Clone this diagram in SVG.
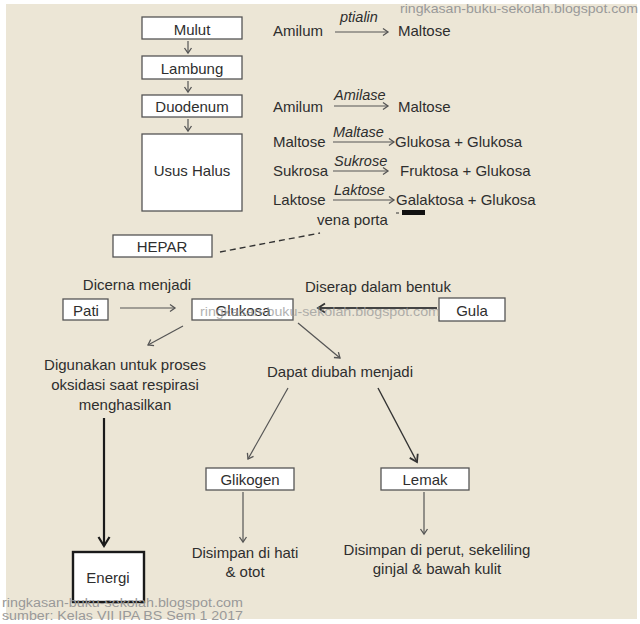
<svg xmlns="http://www.w3.org/2000/svg" width="640" height="624" viewBox="0 0 640 624">
<defs>
<marker id="head" markerUnits="userSpaceOnUse" markerWidth="10" markerHeight="10" refX="6" refY="4" orient="auto" viewBox="0 0 10 8">
<path d="M1,0.5 L6,4 L1,7.5" fill="none" stroke="#555" stroke-width="1.3"/>
</marker>
<marker id="headDark" markerUnits="userSpaceOnUse" markerWidth="12" markerHeight="12" refX="8" refY="5" orient="auto" viewBox="0 0 12 10">
<path d="M1,0.5 L8,5 L1,9.5" fill="none" stroke="#333" stroke-width="1.8"/>
</marker>
<marker id="headBig" markerUnits="userSpaceOnUse" markerWidth="14" markerHeight="14" refX="10" refY="6" orient="auto" viewBox="0 0 14 12">
<path d="M1,0.5 L10,6 L1,11.5" fill="none" stroke="#1a1a1a" stroke-width="2.2"/>
</marker>
</defs>
<style>
text{font-family:"Liberation Sans",Arial,sans-serif;font-size:15px;fill:#2e2e2e}
.c{text-anchor:middle}
.i{font-style:italic;font-size:14.5px}
.box{fill:#fff;stroke:#555;stroke-width:1.3}
.ln{stroke:#555;stroke-width:1.2;fill:none}
.wm{font-family:"Liberation Sans",Arial,sans-serif;font-size:13px;fill:#999}
.wm2{font-family:"Liberation Sans",Arial,sans-serif;font-size:12px;fill:#999}
</style>
<rect x="0" y="0" width="640" height="624" fill="#fff"/>
<rect x="6" y="4" width="631" height="615" fill="#ece6d6"/>

<g id="connectors">
<line class="ln" x1="188" y1="41" x2="188" y2="53" marker-end="url(#head)"/>
<line class="ln" x1="188" y1="81" x2="188" y2="92" marker-end="url(#head)"/>
<line class="ln" x1="188" y1="119" x2="188" y2="131" marker-end="url(#head)"/>
<line class="ln" x1="335" y1="32" x2="388" y2="32" marker-end="url(#head)"/>
<line class="ln" x1="334" y1="106" x2="388" y2="106" marker-end="url(#head)"/>
<line class="ln" x1="333" y1="142" x2="394" y2="142" marker-end="url(#head)"/>
<line class="ln" x1="333" y1="171" x2="388" y2="171" marker-end="url(#head)"/>
<line class="ln" x1="333" y1="200" x2="394" y2="200" marker-end="url(#head)"/>
<line x1="220" y1="252" x2="320" y2="233" stroke="#333" stroke-width="1.4" stroke-dasharray="6,4"/>
<line class="ln" x1="120" y1="308" x2="175" y2="308" stroke="#666" marker-end="url(#head)"/>
<line x1="437" y1="308" x2="318" y2="308" stroke="#444" stroke-width="2" marker-end="url(#headDark)"/>
<line class="ln" x1="183" y1="326" x2="148" y2="345" stroke="#666" marker-end="url(#head)"/>
<line class="ln" x1="298" y1="323" x2="340" y2="358" stroke="#666" marker-end="url(#head)"/>
<line x1="104" y1="418" x2="104" y2="546" stroke="#1a1a1a" stroke-width="2.2" marker-end="url(#headBig)"/>
<line class="ln" x1="288" y1="388" x2="248" y2="459" stroke="#666" marker-end="url(#head)"/>
<line x1="378" y1="388" x2="417" y2="462" stroke="#333" stroke-width="1.4" marker-end="url(#headDark)"/>
<line class="ln" x1="243" y1="492" x2="243" y2="542" stroke="#444" marker-end="url(#head)"/>
<line class="ln" x1="424" y1="492" x2="424" y2="534" stroke="#8a8478" marker-end="url(#head)"/>
<rect x="402" y="210" width="23" height="5" fill="#111"/>
<line x1="396" y1="213" x2="399" y2="213" stroke="#333" stroke-width="1"/>
</g>

<g id="mulut"><rect class="box" x="142" y="17" width="100" height="22"/><text class="c" x="192" y="35">Mulut</text></g>
<g id="lambung"><rect class="box" x="142" y="56" width="100" height="23"/><text class="c" x="192" y="74">Lambung</text></g>
<g id="duodenum"><rect class="box" x="142" y="95" width="100" height="22" stroke="#222"/><text class="c" x="192" y="112">Duodenum</text></g>
<g id="usus-halus"><rect class="box" x="142" y="134" width="100" height="77"/><text class="c" x="192" y="176">Usus Halus</text></g>

<g id="reaksi">
<text x="273" y="36">Amilum</text><text class="i" x="340" y="22">ptialin</text><text x="398" y="36">Maltose</text>
<text x="273" y="112">Amilum</text><text class="i" x="334" y="100">Amilase</text><text x="398" y="112">Maltose</text>
<text x="273" y="147">Maltose</text><text class="i" x="333" y="137">Maltase</text><text x="395" y="147">Glukosa + Glukosa</text>
<text x="273" y="176">Sukrosa</text><text class="i" x="334" y="166">Sukrose</text><text x="400" y="176">Fruktosa + Glukosa</text>
<text x="273" y="205">Laktose</text><text class="i" x="334" y="195">Laktose</text><text x="396" y="205">Galaktosa + Glukosa</text>
<text x="317" y="225">vena porta</text>
</g>

<g id="hepar"><rect class="box" x="113" y="235" width="99" height="22"/><text class="c" x="162" y="252">HEPAR</text></g>
<g id="pati"><rect class="box" x="63" y="299" width="45" height="21"/><text class="c" x="86" y="316">Pati</text></g>
<g id="glukosa"><rect class="box" x="192" y="299" width="101" height="21"/><text class="c" x="243" y="316">Glukosa</text></g>
<g id="gula"><rect class="box" x="439" y="298" width="66" height="23"/><text class="c" x="472" y="316">Gula</text></g>
<text class="c" x="137" y="290">Dicerna menjadi</text>
<text class="c" x="378" y="292">Diserap dalam bentuk</text>

<g id="digunakan">
<text class="c" x="125" y="370">Digunakan untuk proses</text>
<text class="c" x="125" y="390">oksidasi saat respirasi</text>
<text class="c" x="125" y="410">menghasilkan</text>
</g>
<g id="dapat"><text class="c" x="340" y="377">Dapat diubah menjadi</text></g>
<g id="energi"><rect x="73" y="552" width="71" height="50" fill="#fff" stroke="#1a1a1a" stroke-width="2.4"/><text class="c" x="108" y="583">Energi</text></g>
<g id="glikogen"><rect class="box" x="206" y="468" width="88" height="22"/><text class="c" x="250" y="485">Glikogen</text></g>
<g id="lemak"><rect class="box" x="381" y="468" width="88" height="22"/><text class="c" x="425" y="485">Lemak</text></g>
<g id="simpan-hati"><text class="c" x="245" y="558">Disimpan di hati</text><text class="c" x="245" y="577">&amp; otot</text></g>
<g id="simpan-perut"><text class="c" x="437" y="555">Disimpan di perut, sekeliling</text><text class="c" x="437" y="574">ginjal &amp; bawah kulit</text></g>

<g id="watermarks">
<text class="wm" x="400" y="13" textLength="238" lengthAdjust="spacingAndGlyphs">ringkasan-buku-sekolah.blogspot.com</text>
<text class="wm" x="200" y="316" textLength="240" lengthAdjust="spacingAndGlyphs" opacity="0.75">ringkasan-buku-sekolah.blogspot.com</text>
<text class="wm2" x="2" y="607" textLength="241" lengthAdjust="spacingAndGlyphs">ringkasan-buku-sekolah.blogspot.com</text>
<text class="wm2" x="2" y="620" textLength="241" lengthAdjust="spacingAndGlyphs">sumber: Kelas VII IPA BS Sem 1 2017</text>
</g>
</svg>
